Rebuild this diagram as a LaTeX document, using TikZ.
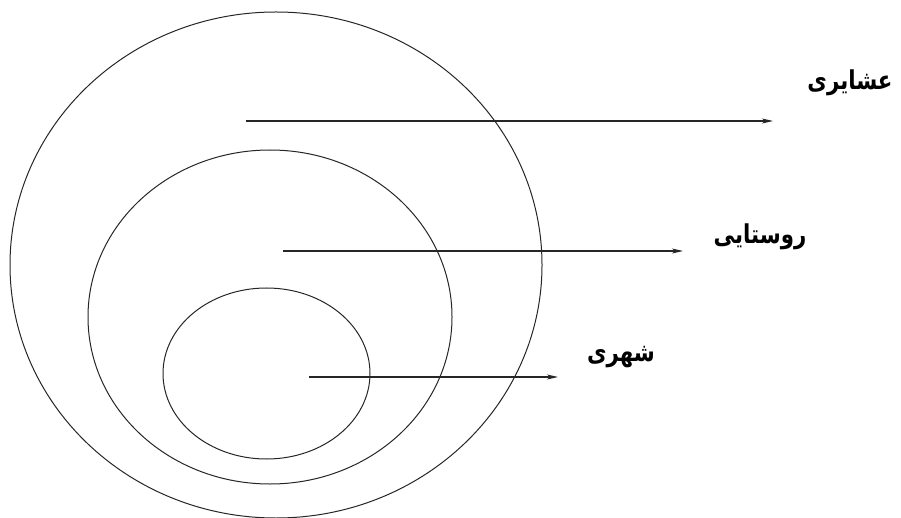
\documentclass[tikz,border=0pt]{standalone}
\usepackage{fontspec}
\newfontfamily\arabicfont[Script=Arabic,BoldFont={DejaVu Sans Bold}]{DejaVu Sans}
\TeXXeTstate=1
\usetikzlibrary{arrows.meta}
\newcommand\persianlabel[1]{\scalebox{0.82}[1]{\arabicfont\bfseries\fontsize{26}{30}\selectfont\beginR #1\endR}}
\tikzset{
  ring/.style={draw=black!85, line width=1pt},
  pointer/.style={draw=black!85, line width=1.1pt, -{Stealth[length=11pt,width=5pt,inset=3pt]}},
  lbl/.style={inner sep=0pt}
}
\begin{document}
\begin{tikzpicture}[x=1pt,y=-1pt]
\useasboundingbox (0,0) rectangle (901,518);
\draw[ring] (276,265) ellipse [x radius=266, y radius=253];
\draw[ring] (270,317) ellipse [x radius=182, y radius=167];
\draw[ring] (266.5,373.5) ellipse [x radius=103.5, y radius=85.5];
\coordinate (s1) at (246,121);
\coordinate (e1) at (773,121);
\coordinate (s2) at (283,251);
\coordinate (e2) at (683,251);
\coordinate (s3) at (309,377);
\coordinate (e3) at (558,377);
\draw[pointer] (s1) -- (e1);
\draw[pointer] (s2) -- (e2);
\draw[pointer] (s3) -- (e3);
\node[lbl] (t1) at (850,83) {\persianlabel{عشایری}};
\node[lbl] (t2) at (760,237) {\persianlabel{روستایی}};
\node[lbl] (t3) at (621,357) {\persianlabel{شهری}};
\end{tikzpicture}
\end{document}
